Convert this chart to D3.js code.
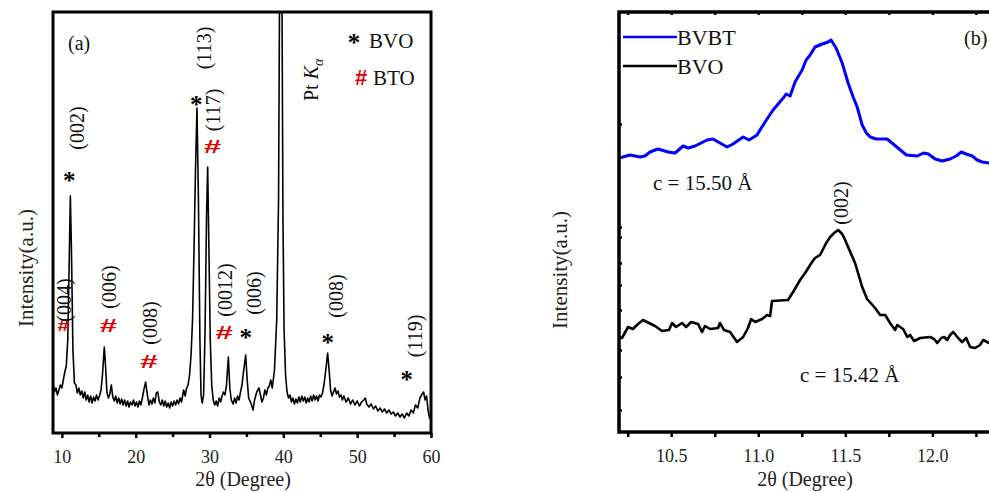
<!DOCTYPE html>
<html lang="en">
<head>
<meta charset="UTF-8">
<title>XRD patterns BVO / BVBT</title>
<style>
  body { margin: 0; background: #fff; }
</style>
</head>
<body>
<div id="chart"></div>
<script src="https://cdnjs.cloudflare.com/ajax/libs/d3/7.8.5/d3.min.js"></script>
<script>
// ---- panel (a): full XRD scan, 2theta vs intensity (a.u.)
var scanTheta = [8.8,9.0,9.2,9.4,9.6,9.8,10.0,10.2,10.4,10.6,10.8,11.0,11.15,11.3,11.5,11.7,11.9,12.1,12.3,12.5,
  12.7,12.9,13.1,13.3,13.5,13.7,13.9,14.1,14.3,14.5,14.7,14.9,15.1,15.3,15.5,15.75,15.95,16.1,16.3,16.5,
  16.7,16.9,17.1,17.3,17.5,17.7,17.9,18.1,18.3,18.5,18.7,18.9,19.1,19.3,19.5,19.7,19.9,20.1,20.3,20.5,
  20.7,20.9,21.1,21.35,21.6,21.8,22.0,22.2,22.4,22.6,22.8,23.0,23.2,23.4,23.6,23.8,24.0,24.2,24.4,24.6,
  24.8,25.0,25.2,25.4,25.6,25.8,26.0,26.2,26.5,26.7,26.9,27.1,27.3,27.5,27.7,27.9,28.1,28.3,28.5,28.7,
  28.85,29.0,29.2,29.4,29.6,29.75,29.9,30.1,30.3,30.5,30.7,30.9,31.1,31.3,31.5,31.7,31.9,32.1,32.3,32.55,
  32.75,32.95,33.2,33.4,33.6,33.8,34.0,34.2,34.4,34.6,34.9,35.1,35.3,35.6,35.9,36.1,36.4,36.7,36.9,37.1,
  37.3,37.5,37.7,37.9,38.1,38.3,38.5,38.8,39.1,39.35,39.5,39.8,39.95,40.1,40.3,40.5,40.7,40.9,41.1,41.3,
  41.5,41.7,41.9,42.1,42.3,42.5,42.7,42.9,43.1,43.3,43.5,43.7,43.9,44.1,44.3,44.5,44.7,44.9,45.1,45.3,
  45.5,45.75,46.0,46.2,46.4,46.6,46.8,47.0,47.2,47.4,47.6,47.8,48.0,48.2,48.5,48.8,49.1,49.4,49.7,50.0,
  50.3,50.6,50.9,51.1,51.3,51.6,51.9,52.2,52.5,52.8,53.1,53.4,53.7,54.0,54.3,54.6,54.9,55.2,55.5,55.8,
  56.1,56.4,56.7,57.0,57.3,57.6,57.9,58.2,58.5,58.8,59.0,59.2,59.4,59.6,59.8,60.0];
var scanCounts = [50,41,45,38,43,48,45,53,61,67,93,173,237,183,83,50,48,40,45,38,
  42,35,41,33,38,31,37,30,36,32,38,33,37,43,58,86,63,41,35,39,
  48,36,32,37,30,35,29,34,28,33,27,32,26,31,28,33,27,31,26,32,
  28,35,43,51,37,28,33,29,35,30,40,41,31,28,33,27,32,26,30,25,
  31,27,32,28,33,29,35,31,43,37,45,48,58,78,113,183,263,325,233,93,
  38,30,38,103,218,266,193,93,48,33,28,32,27,35,31,37,41,38,48,76,
  45,33,29,35,30,37,33,41,48,61,78,53,35,30,23,33,41,45,38,31,
  35,43,38,45,47,53,45,63,113,233,460,460,213,103,58,41,35,38,31,35,
  29,34,30,36,31,37,32,36,30,35,31,37,32,38,33,37,32,38,36,40,
  48,63,80,63,43,37,41,45,39,42,36,38,33,37,31,35,29,33,28,32,
  27,31,33,35,29,26,29,24,27,22,25,21,24,20,23,19,21,17,20,16,
  19,15,20,17,23,20,28,25,35,39,41,33,37,23,15,15];

var thetaMajor = [10, 20, 30, 40, 50, 60];
var thetaMinor = [15, 25, 35, 45, 55];

// reflection labels: where the phase mark and the (hkl) label sit (2theta, intensity)
var reflections = [
  { hkl: "(002)", phase: "BVO", theta: 11.0, mark: 262, label: 305 },
  { hkl: "(113)", phase: "BVO", theta: 28.2, mark: 338, label: 385 },
  { hkl: "(117)", phase: "BTO", theta: 30.4, mark: 287, label: 323 },
  { hkl: "(004)", phase: "BTO", theta: 10.2, mark: 108, label: 133, small: true },
  { hkl: "(006)", phase: "BTO", theta: 16.3, mark: 108, label: 146 },
  { hkl: "(008)", phase: "BTO", theta: 21.8, mark: 72, label: 110 },
  { hkl: "(0012)", phase: "BTO", theta: 32.0, mark: 101, label: 143 },
  { hkl: "(006)", phase: "BVO", theta: 34.9, mark: 105, label: 140 },
  { hkl: "(008)", phase: "BVO", theta: 46.0, mark: 100, label: 137 },
  { hkl: "(119)", phase: "BVO", theta: 56.7, mark: 63, label: 97 }
];

// ---- panel (b): zoom on the (002) reflection
var bvbtTheta = [10.200,10.263,10.321,10.349,10.378,10.424,10.482,10.522,10.568,10.597,10.637,10.706,10.740,10.780,
  10.821,10.855,10.913,10.947,10.993,11.010,11.039,11.085,11.114,11.148,11.160,11.183,11.211,11.252,11.275,
  11.298,11.326,11.367,11.401,11.418,11.447,11.482,11.516,11.545,11.568,11.597,11.621,11.643,11.677,11.740,
  11.775,11.816,11.851,11.914,11.948,11.977,12.016,12.056,12.102,12.137,12.166,12.194,12.229,12.257,12.286,
  12.326,12.360];
var bvbtCounts = [274,277,275,276,280,283,280,279,286,284,286,292,293,289,
  285,288,295,292,297,302,310,322,328,335,338,336,350,362,372,
  377,385,388,390,392,384,369,349,335,325,307,299,295,293,293,
  288,282,277,276,279,278,273,271,273,276,280,278,276,272,270,
  269,269];

var bvoTheta = [10.200,10.217,10.252,10.280,10.309,10.338,10.372,10.407,10.447,10.487,10.505,10.528,10.562,10.586,
  10.614,10.654,10.677,10.694,10.723,10.769,10.780,10.803,10.838,10.878,10.913,10.941,10.959,10.982,11.022,
  11.051,11.068,11.079,11.171,11.200,11.240,11.269,11.309,11.326,11.355,11.390,11.413,11.436,11.459,11.482,
  11.499,11.516,11.556,11.597,11.625,11.671,11.700,11.729,11.757,11.786,11.798,11.832,11.856,11.872,11.895,
  11.930,11.987,12.010,12.028,12.051,12.068,12.085,12.102,12.120,12.148,12.171,12.194,12.217,12.246,12.274,
  12.292,12.326,12.360];
var bvoCounts = [95,94,105,103,108,112,109,106,101,102,109,105,109,105,
  110,108,100,106,103,104,109,102,100,90,95,104,113,110,113,
  117,116,131,132,140,152,159,170,174,177,189,195,199,202,198,
  192,185,169,145,133,124,117,117,109,102,107,103,95,97,91,
  94,95,93,89,94,95,92,97,100,94,90,94,85,84,87,
  92,89,90];

var zoomMajor = [10.5, 11.0, 11.5, 12.0];
var zoomMinor = [10.25, 10.75, 11.25, 11.75, 12.25];
var zoomYTicks = [22, 55, 82, 122, 147, 169, 195, 205, 308];

var SERIF = "'Liberation Serif', 'Times New Roman', serif";
var SANS = "'Liberation Sans', Arial, sans-serif";
var W = 989, H = 492;
var svg = d3.select("#chart").append("svg").attr("width", W).attr("height", H)
  .style("display", "block").style("font-family", SERIF);

function styleAxis(g) {
  g.select(".domain").remove();
  g.selectAll(".tick line").attr("stroke", "#000").attr("stroke-width", 2.5);
  g.selectAll(".tick text").style("font-family", SERIF).style("font-size", "18px").attr("fill", "#222");
}

// ================= panel (a)
var xa = d3.scaleLinear().domain([8.8, 60]).range([53, 431]);
var ya = d3.scaleLinear().domain([0, 421]).range([433, 12]);

svg.append("clipPath").attr("id", "clipA").append("rect")
  .attr("x", 53).attr("y", 12).attr("width", 378).attr("height", 421);

var lineA = d3.line().x(function (d) { return xa(d[0]); }).y(function (d) { return ya(d[1]); });
svg.append("path")
  .datum(d3.zip(scanTheta, scanCounts))
  .attr("clip-path", "url(#clipA)")
  .attr("d", lineA)
  .attr("fill", "none")
  .attr("stroke", "#000")
  .attr("stroke-width", 1.6)
  .attr("stroke-linejoin", "round");

svg.append("rect")
  .attr("x", xa.range()[0]).attr("y", ya.range()[1])
  .attr("width", xa.range()[1] - xa.range()[0]).attr("height", ya.range()[0] - ya.range()[1])
  .attr("fill", "none").attr("stroke", "#000").attr("stroke-width", 3);

svg.append("g").attr("transform", "translate(0," + ya.range()[0] + ")")
  .call(d3.axisBottom(xa).tickValues(thetaMajor).tickSize(5).tickPadding(12).tickFormat(d3.format("d")))
  .call(styleAxis);
svg.append("g").attr("transform", "translate(0," + ya.range()[0] + ")")
  .call(d3.axisBottom(xa).tickValues(thetaMinor).tickSize(4).tickFormat(""))
  .call(styleAxis);

svg.append("text").attr("x", 243).attr("y", 486).attr("text-anchor", "middle")
  .style("font-size", "20px").attr("fill", "#222").text("2θ (Degree)");
svg.append("text").attr("transform", "translate(33,268) rotate(-90)").attr("text-anchor", "middle")
  .style("font-size", "21px").attr("fill", "#222").text("Intensity(a.u.)");

svg.append("text").attr("x", 68).attr("y", 50).style("font-size", "20px").attr("fill", "#111").text("(a)");

// reflection markers
var refl = svg.append("g").selectAll("g").data(reflections).enter().append("g");
refl.filter(function (d) { return d.phase === "BVO"; }).append("text")
  .attr("x", function (d) { return xa(d.theta); })
  .attr("y", function (d) { return ya(d.mark); })
  .attr("text-anchor", "middle")
  .attr("dy", "0.72em")
  .style("font-weight", "bold")
  .style("font-size", "25px")
  .text("*");
refl.filter(function (d) { return d.phase === "BTO"; }).append("text")
  .attr("transform", function (d) {
    return "translate(" + xa(d.theta) + "," + ya(d.mark) + ") scale(" + (d.small ? 1.25 : 1.65) + ",1)";
  })
  .attr("text-anchor", "middle")
  .attr("dy", "0.36em")
  .attr("fill", "#dd0000")
  .style("font-family", SANS)
  .style("font-weight", "bold")
  .style("font-size", function (d) { return d.small ? "17px" : "19px"; })
  .text("#");
refl.append("text")
  .attr("transform", function (d) {
    return "translate(" + (xa(d.theta) + (d.phase === "BVO" ? 8 : 1)) + "," + ya(d.label) + ") rotate(-90)";
  })
  .attr("text-anchor", "middle")
  .attr("dy", "0.35em")
  .style("font-size", "20px")
  .attr("fill", "#111")
  .text(function (d) { return d.hkl; });

// Pt K alpha
var pt = svg.append("text").attr("transform", "translate(318,101) rotate(-90)")
  .style("font-size", "20px").attr("fill", "#111");
pt.append("tspan").text("Pt ");
pt.append("tspan").style("font-style", "italic").text("K");
pt.append("tspan").style("font-style", "italic").style("font-size", "14px").attr("dy", 5).text("α");

// phase legend
svg.append("text").attr("x", 354).attr("y", 33).attr("text-anchor", "middle")
  .style("font-size", "25px").style("font-weight", "bold").attr("dy", "0.72em").text("*");
svg.append("text").attr("x", 369).attr("y", 48).style("font-size", "21px").attr("fill", "#111").text("BVO");
svg.append("text").attr("x", 361).attr("y", 77).attr("text-anchor", "middle").attr("dy", "0.36em")
  .style("font-family", SANS).style("font-weight", "bold").style("font-size", "22px")
  .attr("fill", "#dd0000").text("#");
svg.append("text").attr("x", 373).attr("y", 85).style("font-size", "21px").attr("fill", "#111").text("BTO");

// ================= panel (b)
var xb = d3.scaleLinear().domain([10.2, 12.4]).range([619, 1002]);
var yb = d3.scaleLinear().domain([0, 420]).range([432, 12]);

svg.append("clipPath").attr("id", "clipB").append("rect")
  .attr("x", 619).attr("y", 12).attr("width", 383).attr("height", 420);

var lineB = d3.line().x(function (d) { return xb(d[0]); }).y(function (d) { return yb(d[1]); });
svg.append("path").datum(d3.zip(bvoTheta, bvoCounts)).attr("clip-path", "url(#clipB)")
  .attr("d", lineB).attr("fill", "none").attr("stroke", "#000").attr("stroke-width", 2.6)
  .attr("stroke-linejoin", "round");
svg.append("path").datum(d3.zip(bvbtTheta, bvbtCounts)).attr("clip-path", "url(#clipB)")
  .attr("d", lineB).attr("fill", "none").attr("stroke", "#0000ff").attr("stroke-width", 3)
  .attr("stroke-linejoin", "round");

svg.append("rect")
  .attr("x", xb.range()[0]).attr("y", yb.range()[1])
  .attr("width", xb.range()[1] - xb.range()[0]).attr("height", yb.range()[0] - yb.range()[1])
  .attr("fill", "none").attr("stroke", "#000").attr("stroke-width", 3.5);

svg.append("g").attr("transform", "translate(0," + yb.range()[0] + ")")
  .call(d3.axisBottom(xb).tickValues(zoomMajor).tickSize(5).tickPadding(12).tickFormat(d3.format(".1f")))
  .call(styleAxis);
svg.append("g").attr("transform", "translate(0," + yb.range()[0] + ")")
  .call(d3.axisBottom(xb).tickValues(zoomMinor).tickSize(5).tickFormat(""))
  .call(styleAxis);
svg.append("g").attr("transform", "translate(0," + yb.range()[1] + ")")
  .call(d3.axisBottom(xb).tickValues(zoomMajor.concat(zoomMinor)).tickSize(3).tickFormat(""))
  .call(styleAxis);
svg.append("g").attr("transform", "translate(" + xb.range()[0] + ",0)")
  .call(d3.axisRight(yb).tickValues(zoomYTicks).tickSize(3).tickFormat(""))
  .call(styleAxis);

svg.append("text").attr("x", 805).attr("y", 486).attr("text-anchor", "middle")
  .style("font-size", "20px").attr("fill", "#222").text("2θ (Degree)");
svg.append("text").attr("transform", "translate(567,270) rotate(-90)").attr("text-anchor", "middle")
  .style("font-size", "21px").attr("fill", "#222").text("Intensity(a.u.)");

svg.append("text").attr("x", 964).attr("y", 45).style("font-size", "20px").attr("fill", "#111").text("(b)");

// series legend
var legend = [{ name: "BVBT", color: "#0000ff", y: 37 }, { name: "BVO", color: "#000", y: 66 }];
var lg = svg.append("g").selectAll("g").data(legend).enter().append("g");
lg.append("line").attr("x1", 623).attr("x2", 677)
  .attr("y1", function (d) { return d.y; }).attr("y2", function (d) { return d.y; })
  .attr("stroke", function (d) { return d.color; }).attr("stroke-width", 2.5);
lg.append("text").attr("x", 677).attr("y", function (d) { return d.y + 8; })
  .style("font-size", "22px").attr("fill", "#111").text(function (d) { return d.name; });

svg.append("text").attr("x", 653).attr("y", 190).style("font-size", "21px").attr("fill", "#111").text("c = 15.50 Å");
svg.append("text").attr("x", 800).attr("y", 382).style("font-size", "21px").attr("fill", "#111").text("c = 15.42 Å");
svg.append("text").attr("transform", "translate(" + (xb(11.47) + 1) + ",203) rotate(-90)")
  .attr("text-anchor", "middle").attr("dy", "0.35em").style("font-size", "20px").attr("fill", "#111").text("(002)");
</script>
</body>
</html>
